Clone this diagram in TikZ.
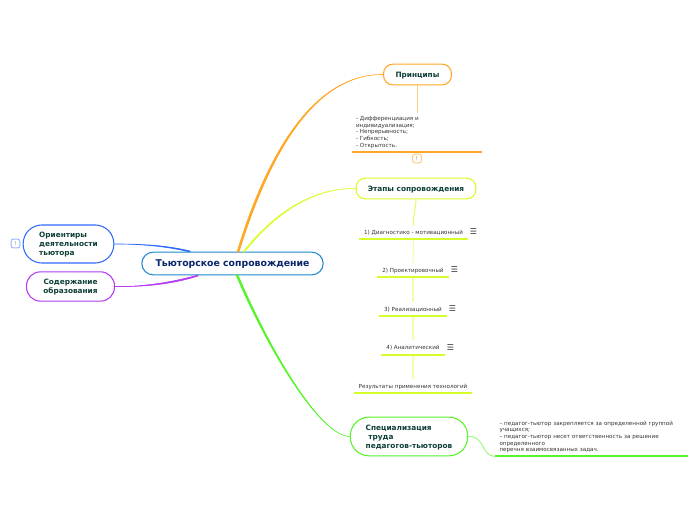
\documentclass[tikz,border=0pt]{standalone}
\usepackage{fontspec}
\setmainfont{DejaVu Sans}
\usetikzlibrary{arrows.meta}
\definecolor{cOrange}{HTML}{FFA726}
\definecolor{cYellow}{HTML}{D4FF2A}
\definecolor{cGreen}{HTML}{55F52A}
\definecolor{cBlue}{HTML}{2F6BFF}
\definecolor{cPurple}{HTML}{B43CF5}
\definecolor{cRoot}{HTML}{1E88D2}
\definecolor{cTitle}{HTML}{0E3F38}
\definecolor{cText}{HTML}{333333}
\tikzset{
  topic/.style={draw,rounded corners=10.5pt,line width=0.8pt,fill=white,inner sep=0pt,text depth=0pt,font=\fontsize{5.5}{6.8}\selectfont\bfseries,text=cTitle},
  leaf/.style={inner sep=0pt,font=\fontsize{4.2}{5}\selectfont,text=cText},
  stagetext/.style={leaf,text depth=0pt,minimum height=10.5pt},
  under/.style={line width=1.3pt},
  twig/.style={line width=0.8pt},
  branch/.style={line width=0.45pt},
  noteicon/.style={font=\fontsize{6}{6}\selectfont,inner sep=0pt,text=cText},
  warnicon/.style={draw,rounded corners=1.5pt,line width=0.7pt,minimum width=6.5pt,minimum height=6.5pt,inner sep=0pt,font=\fontsize{4}{4}\selectfont,text=gray}
}
\begin{document}
\begin{tikzpicture}[x=0.75pt,y=-0.75pt]
  \useasboundingbox (0,0) rectangle (696,520);
  % main topics
  \node (root) at (232.5,263.5) [topic,draw=cRoot,rounded corners=8.5pt,minimum width=136pt,minimum height=17pt,font=\fontsize{7}{8}\selectfont\bfseries,text=black!30!blue!40!cTitle] {Тьюторское сопровождение};
  \node (princ) at (417.5,74.5) [topic,draw=cOrange,rounded corners=7pt,minimum width=51pt,minimum height=15.5pt] {Принципы};
  \node (stages) at (416,188.5) [topic,draw=cYellow,rounded corners=7pt,minimum width=90pt,minimum height=15.5pt] {Этапы сопровождения};
  \node (spec) at (409,436.5) [topic,draw=cGreen,rounded corners=14pt,minimum width=88pt,minimum height=29pt,align=left] {Специализация\\\hspace*{2pt}труда\\педагогов-тьюторов};
  \node (orient) at (68.5,244) [topic,draw=cBlue,rounded corners=14pt,minimum width=68pt,minimum height=28.5pt,align=left] {Ориентиры\\деятельности\\тьютора};
  \node (content) at (70.5,286.5) [topic,draw=cPurple,rounded corners=10.5pt,minimum width=66pt,minimum height=22pt,align=center] {Содержание\\образования};

  % leaves
  \node (princtext) at (417,132.5) [leaf,minimum width=97.5pt,minimum height=29.25pt,text width=97.5pt,align=left] {\hspace*{3pt}- Дифференциация и\\\hspace*{3pt}индивидуализация;\\\hspace*{3pt}- Непрерывность;\\\hspace*{3pt}- Гибкость;\\\hspace*{3pt}- Открытость.};
  \node (stage1) at (413.5,232) [stagetext,minimum width=81pt] {1) Диагностико - мотивационный};
  \node (stage2) at (413,270) [stagetext,minimum width=53pt] {2) Проектировочный};
  \node (stage3) at (413,309) [stagetext,minimum width=51pt] {3) Реализационный};
  \node (stage4) at (413,347.5) [stagetext,minimum width=47pt] {4) Аналитический};
  \node (stage5) at (413,386) [stagetext,minimum width=88pt] {Результаты применения технологий};
  \node (spectext) at (591.5,437) [leaf,minimum width=144pt,minimum height=28.5pt,text width=144pt,align=left] {\hspace*{3pt}– педагог-тьютор закрепляется за определенной группой\\\hspace*{3pt}учащихся;\\\hspace*{3pt}– педагог-тьютор несет ответственность за решение\\\hspace*{3pt}определенного\\\hspace*{3pt}перечня взаимосвязанных задач.};

  % icons
  \node (note1) at (473.5,231.5) [noteicon] {☰};
  \node (note2) at (454.5,269.5) [noteicon] {☰};
  \node (note3) at (452.5,308.5) [noteicon] {☰};
  \node (note4) at (450.5,347.5) [noteicon] {☰};
  \node (warn1) at (417,158.5) [warnicon,draw=cOrange!60] {!};
  \node (warn2) at (15.5,243.5) [warnicon,draw=cBlue!50] {!};

  % branches from the root
  \coordinate (rootN) at (237,252);
  \coordinate (rootNb) at (239,252);
  \coordinate (rootY) at (243,252);
  \coordinate (rootYb) at (244.5,252);
  \coordinate (rootS) at (236,275);
  \coordinate (rootSb) at (238,275);
  \coordinate (rootB) at (190,252);
  \coordinate (rootBb) at (190,251);
  \coordinate (rootP) at (198,275);
  \coordinate (rootPb) at (198,276);
  \filldraw[branch,cOrange] (rootN) .. controls (268,150) and (315,74) .. (princ.west) .. controls (315,74) and (270,152) .. (rootNb) -- cycle;
  \filldraw[branch,cYellow] (rootY) .. controls (280,205) and (320,188) .. (stages.west) .. controls (320,188) and (281,206) .. (rootYb) -- cycle;
  \filldraw[branch,cGreen] (rootS) .. controls (268,350) and (320,436) .. (spec.west) .. controls (320,436) and (270,350) .. (rootSb) -- cycle;
  \filldraw[branch,cBlue] (rootB) .. controls (165,246) and (140,244) .. (orient.east) .. controls (140,244) and (165,245) .. (rootBb) -- cycle;
  \filldraw[branch,cPurple] (rootP) .. controls (170,283) and (140,287) .. (content.east) .. controls (140,287) and (170,285) .. (rootPb) -- cycle;

  % thin links
  \coordinate (princbot) at (417.5,113);
  \draw[twig,cOrange!55] (princ.south) -- (princbot);
  \coordinate (stageA) at (413.5,226);
  \draw[twig,cYellow!70] (stages.south) .. controls (416,208) and (413.5,212) .. (stageA);
  \draw[twig,cYellow!40] (stage1.south) -- (stage2.north);
  \draw[twig,cYellow!40] (stage2.south) -- (stage3.north);
  \draw[twig,cYellow!40] (stage3.south) -- (stage4.north);
  \draw[twig,cYellow!40] (stage4.south) -- (stage5.north);
  \draw[twig,cGreen!55] (spec.east) .. controls (486,436) and (480,456) .. (spectext.south west);

  % underlines
  \draw[under,cOrange] (princtext.south west) -- (princtext.south east);
  \draw[under,cYellow] (stage1.south west) -- (stage1.south east);
  \draw[under,cYellow] (stage2.south west) -- (stage2.south east);
  \draw[under,cYellow] (stage3.south west) -- (stage3.south east);
  \draw[under,cYellow] (stage4.south west) -- (stage4.south east);
  \draw[under,cYellow] (stage5.south west) -- (stage5.south east);
  \draw[under,cGreen] (spectext.south west) -- (spectext.south east);
\end{tikzpicture}
\end{document}
